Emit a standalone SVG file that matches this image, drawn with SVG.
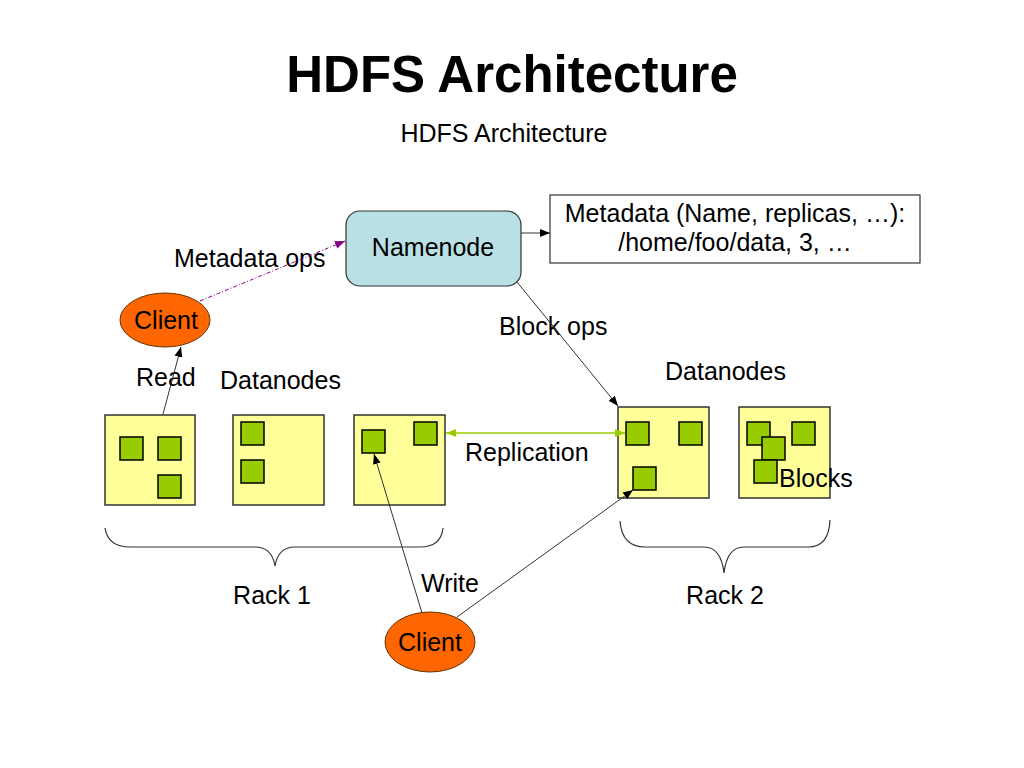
<svg xmlns="http://www.w3.org/2000/svg" width="1024" height="768" viewBox="0 0 1024 768">
<defs>
<style>
text{font-family:"Liberation Sans",Arial,sans-serif;fill:#000}
.lbl{font-size:25px}
.dn{fill:#ffff99;stroke:#333;stroke-width:1.5}
.blk{fill:#99cc00;stroke:#000;stroke-width:1.5}
.cl{fill:#ff6600;stroke:#663300;stroke-width:1}
.ln{stroke:#333;stroke-width:1;fill:none}
.br{stroke:#333;stroke-width:1.2;fill:none}
</style>
<marker id="ab" viewBox="0 0 10 10" refX="10" refY="5" markerWidth="10" markerHeight="10" markerUnits="userSpaceOnUse" orient="auto"><path d="M0,1 L10,5 L0,9 Z" fill="#000"/></marker>
<marker id="ap" viewBox="0 0 10 10" refX="10" refY="5" markerWidth="10" markerHeight="10" markerUnits="userSpaceOnUse" orient="auto"><path d="M0,1 L10,5 L0,9 Z" fill="#800080"/></marker>
<marker id="ag" viewBox="0 0 10 10" refX="10" refY="5" markerWidth="10" markerHeight="10" markerUnits="userSpaceOnUse" orient="auto-start-reverse"><path d="M0,1 L10,5 L0,9 Z" fill="#99cc00"/></marker>
</defs>
<rect width="1024" height="768" fill="#fff"/>
<text x="512" y="92" font-size="51" font-weight="bold" text-anchor="middle">HDFS Architecture</text>
<text x="504" y="142" font-size="25" text-anchor="middle">HDFS Architecture</text>

<g id="namenode">
<rect x="346" y="211" width="175" height="75" rx="14" fill="#b9e0e4" stroke="#333" stroke-width="1.2"/>
<text x="433" y="256" class="lbl" text-anchor="middle">Namenode</text>
</g>
<g id="metadata">
<rect x="550" y="195" width="370" height="68" fill="#fff" stroke="#333" stroke-width="1.2"/>
<text x="735" y="222" class="lbl" text-anchor="middle">Metadata (Name, replicas, …):</text>
<text x="735" y="251" class="lbl" text-anchor="middle">/home/foo/data, 3, …</text>
</g>
<g id="client-read">
<ellipse cx="165" cy="320" rx="45" ry="27" class="cl"/>
<text x="166" y="329" class="lbl" text-anchor="middle">Client</text>
</g>
<g id="client-write">
<ellipse cx="430" cy="642" rx="45" ry="30" class="cl"/>
<text x="430" y="651" class="lbl" text-anchor="middle">Client</text>
</g>

<g id="labels">
<text x="174" y="267" class="lbl">Metadata ops</text>
<text x="136" y="386" class="lbl">Read</text>
<text x="220" y="389" class="lbl">Datanodes</text>
<text x="665" y="380" class="lbl">Datanodes</text>
<text x="499" y="335" class="lbl">Block ops</text>
<text x="465" y="461" class="lbl">Replication</text>
<text x="421" y="592" class="lbl">Write</text>
<text x="272" y="604" class="lbl" text-anchor="middle">Rack 1</text>
<text x="725" y="604" class="lbl" text-anchor="middle">Rack 2</text>
</g>

<g id="datanode-1">
<rect x="105" y="415" width="90" height="90" class="dn"/>
<rect x="120" y="437" width="23" height="23" class="blk"/>
<rect x="158" y="437" width="23" height="23" class="blk"/>
<rect x="158" y="475" width="23" height="23" class="blk"/>
</g>
<g id="datanode-2">
<rect x="233" y="415" width="91" height="90" class="dn"/>
<rect x="241" y="422" width="23" height="23" class="blk"/>
<rect x="241" y="460" width="23" height="23" class="blk"/>
</g>
<g id="datanode-3">
<rect x="354" y="415" width="91" height="90" class="dn"/>
<rect x="362" y="430" width="23" height="23" class="blk"/>
<rect x="414" y="422" width="23" height="23" class="blk"/>
</g>
<g id="datanode-4">
<rect x="618" y="407" width="91" height="91" class="dn"/>
<rect x="626" y="422" width="23" height="23" class="blk"/>
<rect x="679" y="422" width="23" height="23" class="blk"/>
<rect x="633" y="467" width="23" height="23" class="blk"/>
</g>
<g id="datanode-5">
<rect x="739" y="407" width="91" height="91" class="dn"/>
<rect x="747" y="422" width="23" height="23" class="blk"/>
<rect x="762" y="437" width="23" height="23" class="blk"/>
<rect x="792" y="422" width="23" height="23" class="blk"/>
<rect x="754" y="460" width="23" height="23" class="blk"/>
<text x="779" y="487" class="lbl">Blocks</text>
</g>

<g id="connectors">
<line x1="521" y1="233" x2="550" y2="233" class="ln" stroke="#000" marker-end="url(#ab)"/>
<line x1="200" y1="301" x2="345" y2="241" stroke="#800080" stroke-width="1" stroke-dasharray="4,2,1,2" marker-end="url(#ap)"/>
<line x1="163" y1="414" x2="181" y2="347" class="ln" marker-end="url(#ab)"/>
<line x1="517" y1="282" x2="618" y2="406" class="ln" marker-end="url(#ab)"/>
<line x1="446" y1="433" x2="625" y2="433" stroke="#99cc00" stroke-width="1.5" marker-start="url(#ag)" marker-end="url(#ag)"/>
<line x1="422" y1="613" x2="374" y2="454" class="ln" marker-end="url(#ab)"/>
<line x1="457" y1="617" x2="633" y2="490" class="ln" marker-end="url(#ab)"/>
</g>

<g id="rack-braces">
<path d="M105,528 Q108,547 130,547 L255,547 Q272,547 275,566 Q278,547 295,547 L420,547 Q441,547 443,528" class="br"/>
<path d="M620,521 Q622,547 645,547 L704,547 Q721,547 724,573 Q727,547 744,547 L808,547 Q829,547 830,520" class="br"/>
</g>
</svg>
